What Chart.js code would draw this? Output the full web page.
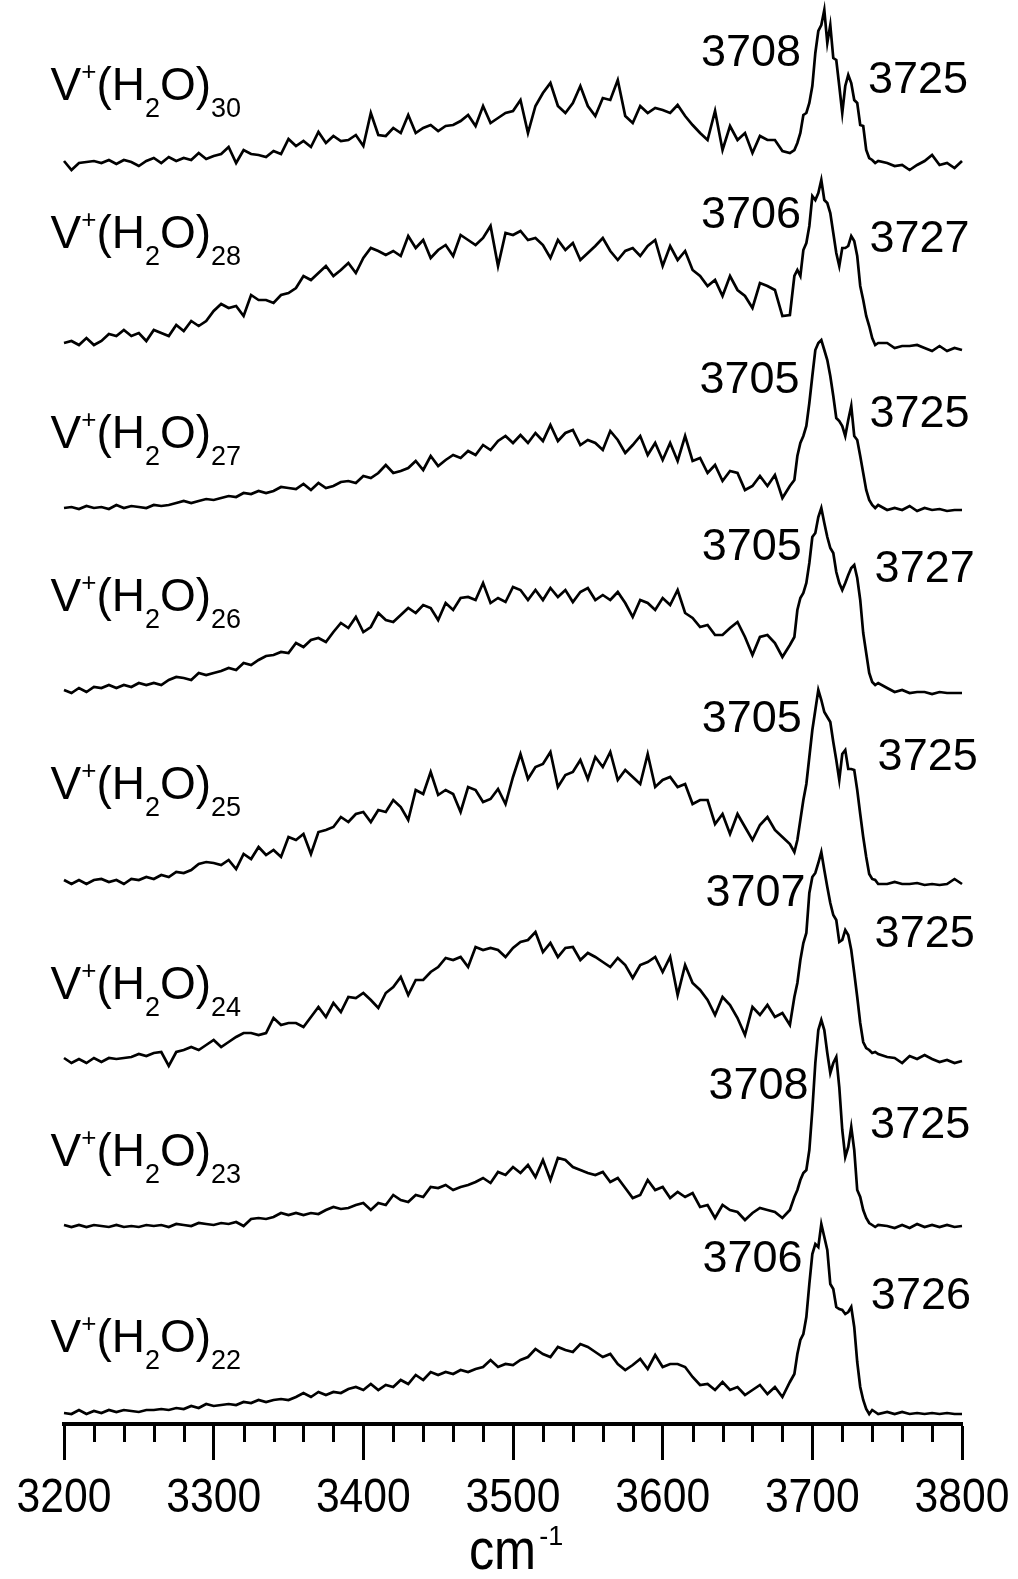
<!DOCTYPE html>
<html>
<head>
<meta charset="utf-8">
<script src="https://cdn.jsdelivr.net/npm/chart.js@4.4.1/dist/chart.umd.min.js"></script>
<style>
html,body{margin:0;padding:0;background:#fff;}
canvas{display:block;}
</style>
</head>
<body>
<canvas id="c" width="1018" height="1579"></canvas>
<script>
// ---------- data ----------
const wavenumbers = [
3200,3205,3210,3215,3220,3225,3230,3235,3240,3245,
3250,3255,3260,3265,3270,3275,3280,3285,3290,3295,
3300,3305,3310,3315,3320,3325,3330,3335,3340,3345,
3350,3355,3360,3365,3370,3375,3380,3385,3390,3395,
3400,3405,3410,3415,3420,3425,3430,3435,3440,3445,
3450,3455,3460,3465,3470,3475,3480,3485,3490,3495,
3500,3505,3510,3515,3520,3525,3530,3535,3540,3545,
3550,3555,3560,3565,3570,3575,3580,3585,3590,3595,
3600,3605,3610,3615,3620,3625,3630,3635,3640,3645,
3650,3655,3660,3665,3670,3675,3680,3685,
3688,3690,3692,3694,3696,3698,3700,3702,3704,3706,3708,3710,3712,3714,3716,3718,3720,3722,3724,3726,3728,3730,3732,3734,3736,3738,3740,3742,3744,
3750,3755,3760,3765,3770,3775,3780,3785,3790,3795,3800
];

const clusterSizes = ["30","28","27","26","25","24","23","22"];

const n30 = [
2,-7,0,1,2,0,3,-1,3,1,
-3,2,5,0,6,2,5,3,10,4,
7,9,16,0,13,9,8,6,12,9,
24,17,22,16,31,20,27,22,23,28,
17,50,28,27,35,30,48,30,35,38,
32,37,38,42,48,37,57,40,45,50,
52,63,30,57,70,80,57,50,60,77,
57,47,65,63,83,47,40,57,50,55,
53,50,58,47,38,30,23,52,13,37,
23,30,10,27,23,23,12,10,
13,20,30,48,50,60,77,110,132,138,153,120,138,105,103,77,50,77,88,80,63,60,38,37,13,5,3,0,2,
0,-3,-2,-7,-2,2,8,-2,0,-5,2
];
const n28 = [
0,2,-2,5,-2,2,9,7,13,7,
10,2,13,10,7,18,12,22,17,22,
32,39,35,37,27,48,43,43,40,48,
50,55,67,63,70,77,67,73,80,70,
85,95,92,88,92,87,107,95,103,85,
93,98,87,108,103,98,105,117,77,110,
108,112,103,105,98,85,103,93,100,83,
90,97,105,92,83,92,95,87,97,103,
77,97,83,92,73,67,57,63,47,67,
53,47,35,60,57,53,27,28,
67,73,67,93,100,117,147,143,150,163,143,140,130,110,90,77,95,95,97,107,102,87,57,43,27,17,5,-2,0,
0,-5,-3,-3,-2,-5,-8,-3,-8,-5,-7
];
const n27 = [
0,1,-1,2,0,1,-1,3,0,2,
1,0,3,2,3,5,7,5,7,9,
8,10,12,11,15,14,17,15,17,21,
20,19,24,18,25,20,22,26,27,25,
32,30,35,43,35,37,40,47,38,52,
42,48,53,50,57,53,63,58,67,72,
65,73,65,75,67,83,67,75,78,63,
68,65,58,77,68,55,63,72,53,65,
48,65,47,72,47,50,35,43,27,37,
35,18,22,32,22,33,10,22,
28,52,65,72,82,105,132,158,165,168,158,148,132,112,90,87,82,72,88,102,72,68,52,35,18,8,3,0,3,
-2,0,-2,2,-3,0,-2,-1,-3,-2,-2
];
const n26 = [
0,-3,2,-2,3,2,5,2,5,3,
7,5,7,5,10,13,12,10,17,15,
17,19,22,20,27,25,30,34,35,38,
37,47,43,50,52,48,58,67,62,73,
58,63,77,70,68,75,82,77,85,82,
70,87,80,92,93,90,107,87,92,88,
103,100,90,100,90,102,93,100,88,98,
102,90,95,90,98,87,73,90,87,80,
92,85,100,77,72,63,65,55,55,62,
68,53,35,53,55,47,33,45,
53,80,92,97,107,127,153,157,173,182,167,153,142,137,118,107,100,107,115,122,125,112,90,57,37,17,8,5,7,
2,-2,0,-3,-2,-2,-4,-2,-3,-3,-3
];
const n25 = [
2,-2,2,-2,2,3,0,2,-2,3,
2,5,3,7,5,10,9,12,18,20,
19,17,22,13,28,23,35,27,32,25,
45,42,48,28,50,52,55,65,60,68,
70,60,72,70,82,75,62,92,88,110,
87,92,88,70,95,92,80,83,93,78,
105,128,103,115,118,130,95,107,110,122,
103,125,115,130,102,112,105,98,128,95,
102,105,95,98,78,82,82,58,68,48,
68,55,42,57,65,52,45,38,
30,42,62,82,98,125,152,172,192,182,170,165,160,140,122,102,128,132,113,113,112,92,68,45,25,8,3,2,-2,
-2,0,-2,-2,-1,-3,-2,-3,-2,3,-2
];
const n24 = [
2,-3,1,-3,2,-2,2,1,2,3,
6,4,7,8,-6,8,10,13,10,15,
20,13,18,23,27,27,25,27,42,35,
37,37,33,43,53,43,57,48,63,62,
67,60,52,67,73,83,65,80,80,88,
93,102,100,103,93,113,110,112,110,103,
112,118,120,128,108,117,103,112,113,100,
107,103,98,93,102,95,82,95,98,103,
88,103,65,95,77,70,60,45,63,55,
42,25,53,45,55,43,47,35,
63,77,100,117,127,167,183,187,197,208,190,173,157,145,140,118,120,130,125,110,87,63,37,18,12,10,7,8,6,
3,2,-3,4,1,5,1,-2,0,-3,-1
];
const n23 = [
1,-1,1,-1,1,0,-1,1,-1,0,
-1,1,0,1,-1,2,1,0,3,2,
1,3,2,4,0,7,8,7,9,13,
11,13,11,13,12,16,19,17,18,21,
23,16,23,21,31,26,24,31,29,39,
38,41,36,39,41,44,48,43,54,51,
59,53,61,49,66,46,68,66,59,56,
53,51,54,44,48,38,28,31,46,36,
39,28,34,29,33,19,21,8,21,16,
14,6,13,18,16,14,8,16,
29,36,46,53,56,76,116,163,196,206,196,173,153,163,169,139,96,69,79,99,76,36,29,16,8,3,1,-1,1,
0,-2,1,-2,2,-1,1,-1,1,-1,0
];
const n22 = [
-1,-2,2,-2,1,-1,2,0,2,1,
0,2,2,3,2,4,3,6,4,8,
6,7,8,7,10,9,12,10,12,13,
12,15,19,15,20,17,20,19,23,25,
22,28,22,27,25,32,28,37,32,40,
37,40,38,42,40,43,45,52,45,48,
47,52,55,63,58,55,65,62,60,68,
65,60,55,58,48,42,47,53,43,57,
45,48,48,45,35,27,28,22,30,22,
25,17,22,27,18,25,15,30,
38,58,72,78,95,128,158,168,165,188,175,162,128,123,105,103,102,98,100,105,85,50,25,12,3,-2,2,0,-2,
0,-2,0,-2,-1,-2,-1,-2,-1,-2,-2
];

const spectra = [n30, n28, n27, n26, n25, n24, n23, n22];
// vertical stacking offset of each trace (same units as the y axis)
const stackOffsets = [1261, 1081, 916, 734, 542, 364, 198, 12];

const xTicks = [3200, 3300, 3400, 3500, 3600, 3700, 3800];

// peak annotations: [text, x (cm-1, right edge), y (baseline)]
const peakLabels = [
  [["3708", 3692.5, 1358], ["3725", 3804.0, 1331]],
  [["3706", 3692.5, 1196], ["3727", 3805.0, 1172]],
  [["3705", 3691.5, 1031], ["3725", 3805.0, 997]],
  [["3705", 3693.0, 864],  ["3727", 3808.5, 842]],
  [["3705", 3693.0, 692],  ["3725", 3810.5, 654]],
  [["3707", 3695.5, 518],  ["3725", 3808.5, 477]],
  [["3708", 3697.5, 325],  ["3725", 3805.5, 286]],
  [["3706", 3693.5, 152],  ["3726", 3806.0, 115]]
];
// baseline of each "V+(H2O)n" label
const nameLabelX = 3191;
const nameLabelY = [1324, 1176, 976, 813, 625, 425, 258, 72];

// ---------- drawing ----------
const FONT = '"Liberation Sans", Arial, Helvetica, sans-serif';

function drawParts(ctx, x, y, parts) {
  ctx.textAlign = 'left';
  ctx.textBaseline = 'alphabetic';
  let cx = x;
  for (const [txt, size, dy] of parts) {
    ctx.font = size + 'px ' + FONT;
    ctx.fillText(txt, cx, y + dy);
    cx += ctx.measureText(txt).width;
  }
  return cx;
}

function drawNarrow(ctx, text, x, y, sx, align) {
  ctx.save();
  ctx.translate(x, y);
  ctx.scale(sx, 1);
  ctx.textAlign = align;
  ctx.textBaseline = 'alphabetic';
  ctx.fillText(text, 0, 0);
  ctx.restore();
}

const annotations = {
  id: 'annotations',
  afterDraw(chart) {
    const ctx = chart.ctx;
    const xs = chart.scales.x, ys = chart.scales.y;
    const area = chart.chartArea;
    ctx.save();
    ctx.fillStyle = '#000';
    ctx.strokeStyle = '#000';
    // minor ticks every 20 cm-1
    ctx.lineWidth = 3;
    for (let v = xs.min + 20; v < xs.max; v += 20) {
      if (v % 100 === 0) continue;
      const px = Math.round(xs.getPixelForValue(v)) + 0.5;
      ctx.beginPath();
      ctx.moveTo(px, area.bottom);
      ctx.lineTo(px, area.bottom + 18);
      ctx.stroke();
    }
    // tick labels (slightly condensed, as in the original)
    ctx.font = '49px ' + FONT;
    xs.ticks.forEach(t => {
      drawNarrow(ctx, String(t.value), xs.getPixelForValue(t.value), area.bottom + 88, 0.87, 'center');
    });
    // cluster labels
    clusterSizes.forEach((n, i) => {
      const x = xs.getPixelForValue(nameLabelX);
      const y = ys.getPixelForValue(nameLabelY[i]);
      drawParts(ctx, x, y, [
        ['V', 46, 0], ['+', 26, -20], ['(H', 46, 0], ['2', 27, 17], ['O)', 46, 0], [n, 27, 17]
      ]);
    });
    // peak labels
    ctx.font = '45px ' + FONT;
    ctx.textAlign = 'right';
    ctx.textBaseline = 'alphabetic';
    peakLabels.forEach(pair => pair.forEach(([t, xv, yv]) => {
      ctx.fillText(t, xs.getPixelForValue(xv), ys.getPixelForValue(yv));
    }));
    // axis title cm-1
    ctx.font = '58px ' + FONT;
    const sx = 0.87;
    const cmW = ctx.measureText('cm').width * sx;
    const cx = xs.getPixelForValue(3493);
    const base = chart.height - 10;
    drawNarrow(ctx, 'cm', cx - cmW / 2, base, sx, 'left');
    ctx.font = '27px ' + FONT;
    ctx.textAlign = 'left';
    ctx.fillText('-1', cx + cmW / 2 + 3, base - 24);
    ctx.restore();
  }
};

const datasets = spectra.map((s, i) => ({
  data: s.map((v, j) => ({ x: wavenumbers[j], y: stackOffsets[i] + v })),
  borderColor: '#000',
  borderWidth: 2.7,
  pointRadius: 0,
  tension: 0,
  fill: false,
  clip: false
}));

new Chart(document.getElementById('c').getContext('2d'), {
  type: 'line',
  data: { datasets },
  options: {
    responsive: false,
    animation: false,
    devicePixelRatio: 1,
    layout: { padding: { left: 64, right: 56, top: 0, bottom: 0 } },
    plugins: { legend: { display: false }, tooltip: { enabled: false } },
    scales: {
      x: {
        type: 'linear', position: 'bottom', min: 3200, max: 3800,
        afterBuildTicks: (s) => { s.ticks = xTicks.map(v => ({ value: v })); },
        afterFit: (s) => { s.height = 155; },
        ticks: { display: false, autoSkip: false, maxRotation: 0 },
        grid: { drawOnChartArea: false, drawTicks: true, tickLength: 36, tickWidth: 3, tickColor: '#000' },
        border: { display: true, color: '#000', width: 4 }
      },
      y: { type: 'linear', min: 0, max: 1424, display: false }
    }
  },
  plugins: [annotations]
});
</script>
</body>
</html>
